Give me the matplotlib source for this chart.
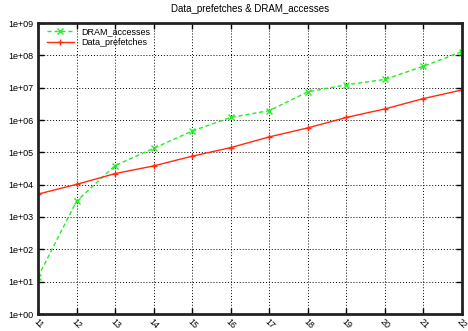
import matplotlib
matplotlib.use("Agg")
import matplotlib.pyplot as plt
from matplotlib.ticker import FixedLocator, NullLocator

plt.rcParams['font.family'] = ['Liberation Sans', 'DejaVu Sans']

x = [11, 12, 13, 14, 15, 16, 17, 18, 19, 20, 21, 22]
dram_accesses = [14, 3100, 39000, 133000, 455000, 1.2e6, 1.95e6, 7.4e6, 1.23e7, 1.8e7, 4.6e7, 1.3e8]
data_prefetches = [5100, 10200, 22000, 38000, 76000, 140000, 300000, 5.7e5, 1.2e6, 2.2e6, 4.6e6, 8.5e6]
yticks = [10.0 ** k for k in range(0, 10)]
ylabels = ["1e+%02d" % k for k in range(0, 10)]
title = "Data_prefetches & DRAM_accesses"

fig = plt.figure(figsize=(4.68, 3.31), dpi=100)
ax = fig.add_axes([38/468, 1 - 314/331, (462 - 38)/468, (314 - 23)/331])

ax.plot(x, dram_accesses, color='#22ee22', linestyle=(0, (3, 2)), linewidth=1.0,
        marker='x', markersize=4, markeredgewidth=1.0, label='DRAM_accesses')
ax.plot(x, data_prefetches, color='#ff2a10', linestyle='-', linewidth=1.0,
        marker='+', markersize=5, markeredgewidth=1.0, label='Data_prefetches')

ax.set_yscale('log')
ax.set_xlim(11, 22)
ax.set_ylim(1, 1e9)
ax.yaxis.set_major_locator(FixedLocator(yticks))
ax.yaxis.set_minor_locator(NullLocator())
ax.set_yticklabels(ylabels)
ax.set_xticks(x)
ax.set_xticklabels([str(v) for v in x], rotation=-45, ha='left', va='top',
                   rotation_mode='anchor')

ax.grid(True, which='major', color='black', linestyle=(0, (1, 2)), linewidth=0.7)
ax.tick_params(axis='both', which='major', direction='in', length=4, width=1,
               top=True, right=True, labelsize=6.5, pad=3)
ax.tick_params(axis='x', pad=2, labelsize=6.5)
for s in ax.spines.values():
    s.set_linewidth(2)
    s.set_color('#222222')

ax.set_title(title, fontsize=7, pad=8)
leg = ax.legend(loc='upper left', frameon=False, fontsize=6.5, handlelength=3,
                borderaxespad=0.1, labelspacing=0.15, handletextpad=0.8,
                numpoints=1, bbox_to_anchor=(0.01, 1.0))

fig.savefig('out.png', dpi=100)
